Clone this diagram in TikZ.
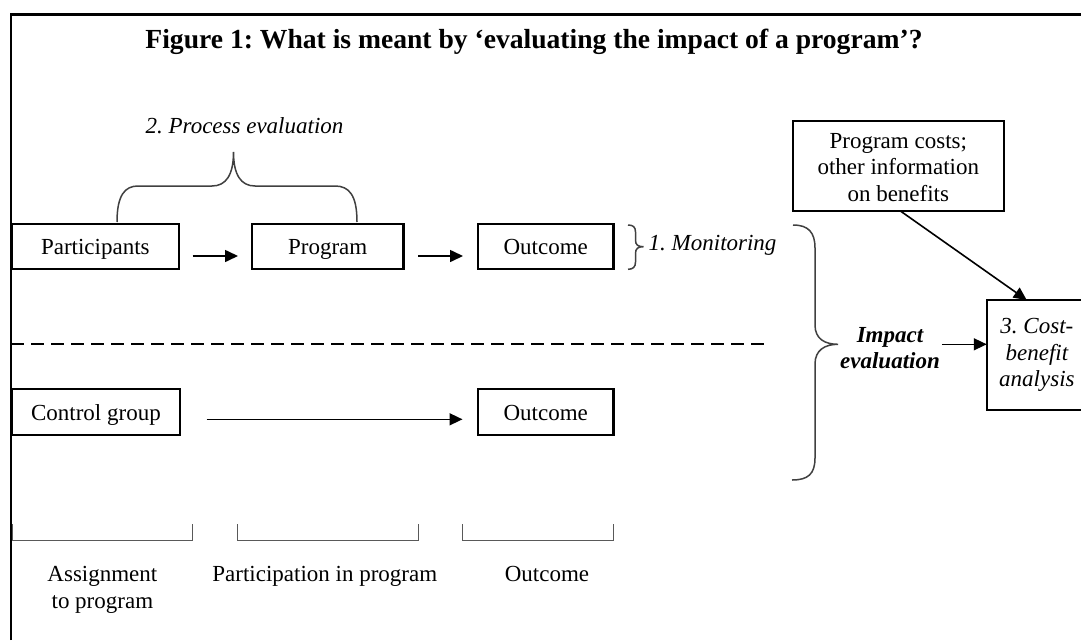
\documentclass[tikz,border=0pt]{standalone}
\usepackage{fontspec}
\setmainfont{Liberation Serif}
\usetikzlibrary{arrows.meta}
\frenchspacing
\begin{document}
\frenchspacing
\begin{tikzpicture}[x=1pt,y=-1pt,
  every node/.style={font=\fontsize{23}{26.6}\selectfont, inner sep=0pt, outer sep=0pt},
  boxline/.style={draw, line width=2.2pt},
  box/.style={boxline, text height=17pt, text depth=1pt, minimum height=45pt},
  arr/.style={line width=1.6pt, -{Triangle[length=13pt,width=12pt]}},
  brace/.style={line width=1.5pt, draw=black!75},
  bracket/.style={line width=1pt, draw=black!65},
  lbl/.style={anchor=base, align=center}
]
\useasboundingbox (0,0) rectangle (1081,640);
\clip (0,0) rectangle (1081,640);
% frame
\draw[line width=2.8pt, line join=miter] (11,640) -- (11,14.5) -- (1081,14.5);
% title
\node[anchor=base, font=\fontsize{27.6}{33}\selectfont\bfseries] (title) at (534,48.3)
  {Figure 1: What is meant by ‘evaluating the impact of a program’?};
% top row
\node[box, minimum width=166.6pt] (part) at (95.3,246.8) {Participants};
\node[box, minimum width=151.4pt] (prog) at (327.7,246.8) {Program};
\node[box, minimum width=135.4pt] (out1) at (545.7,246.8) {Outcome};
% bottom row
\node[box, minimum width=167.8pt, minimum height=45.7pt] (ctrl) at (95.9,412.2) {Control group};
\node[box, minimum width=135.4pt, minimum height=45.7pt] (out2) at (545.7,412.2) {Outcome};
% costs box
\node[boxline, minimum width=211.4pt, minimum height=90pt, align=center, text height=71pt, text depth=0pt] (cost) at (898.3,165.7)
  {Program costs;\\other information\\on benefits};
% cost-benefit box
\node[boxline, minimum width=100.3pt, minimum height=110pt, align=center, font=\fontsize{23}{26.6}\selectfont\itshape] (cba) at (1036.9,355)
  {3. Cost-\\benefit\\analysis};
% arrows
\draw[arr] ([shift={(14,9.2)}]part.east) -- ([shift={(-14,9.2)}]prog.west);
\draw[arr] ([shift={(14.6,9.2)}]prog.east) -- ([shift={(-15,9.2)}]out1.west);
\draw[arr] ([shift={(26.8,7.1)}]ctrl.east) -- ([shift={(-15.5,7.1)}]out2.west);
\draw[arr] ([xshift=1.7pt]cost.south) -- ([xshift=-10.2pt]cba.north);
% dashed divider
\coordinate (dl) at (11,344.3);
\coordinate (dr) at (764.3,344.3);
\draw[line width=2.2pt, dash pattern=on 13pt off 7pt] (dl) -- (dr);
% process evaluation brace
\draw[brace] (117,222) .. controls (117,195) and (125,186) .. (138,186) -- (212,186)
  .. controls (226,186) and (233.5,175) .. (233.5,152)
  .. controls (233.5,175) and (241,186) .. (255,186) -- (335,186)
  .. controls (349,186) and (357,195) .. (357,222);
\node[lbl, font=\fontsize{23}{26.6}\selectfont\itshape] (proc) at (244.5,133) {2. Process evaluation};
% monitoring brace
\draw[brace] (628,225) .. controls (633,225) and (635.5,227) .. (635.5,232) -- (635.5,240)
  .. controls (635.5,245) and (638,246.7) .. (643.5,246.7)
  .. controls (638,246.7) and (635.5,248.5) .. (635.5,253.5) -- (635.5,262)
  .. controls (635.5,267) and (633,269.3) .. (628,269.3);
\node[anchor=base west, font=\fontsize{23}{26.6}\selectfont\itshape] (mon) at (648.7,250) {1. Monitoring};
% impact brace
\coordinate (tip) at (838,344.3);
\draw[brace] (793,225) .. controls (808,225) and (815,232) .. (815,248) -- (815,325)
  .. controls (815,339) and (825,344.3) .. (tip)
  .. controls (825,344.3) and (815,350) .. (815,364) -- (815,458)
  .. controls (815,474) and (808,480) .. (792,480);
\node[align=center, font=\fontsize{23}{26.6}\selectfont\bfseries\itshape] (impact) at (890,348.2) {Impact\\evaluation};
\draw[arr] ([xshift=2pt]impact.east |- tip) -- (cba.west |- tip);
% phase brackets
\draw[bracket] (12,524.3) -- (12,540) -- (192.8,540) -- (192.8,524.3);
\draw[bracket] (237,524.3) -- (237,540) -- (418.4,540) -- (418.4,524.3);
\draw[bracket] (462.5,524.3) -- (462.5,540) -- (613.5,540) -- (613.5,524.3);
\node[lbl] (asg) at (102.4,608.3) {Assignment\\to program};
\node[lbl] (partic) at (324.8,581.7) {Participation in program};
\node[lbl] (outl) at (547,581.7) {Outcome};
\end{tikzpicture}
\end{document}
